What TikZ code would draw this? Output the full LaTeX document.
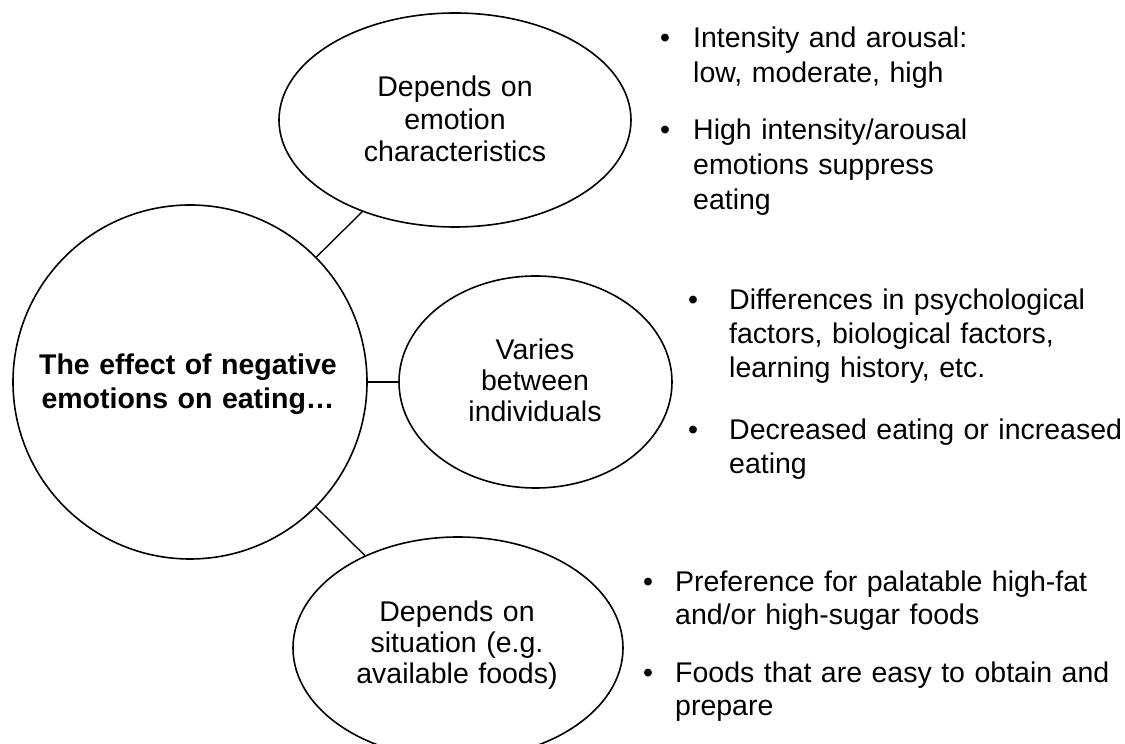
\documentclass[tikz,border=0pt]{standalone}
\usepackage{fontspec}
\setmainfont{Liberation Sans}
\usetikzlibrary{shapes.geometric}

\tikzset{
  outline/.style={draw=black, line width=1.6pt, inner sep=0pt},
  bubble/.style={outline, ellipse},
  link/.style={draw=black, line width=1.4pt},
  lbl/.style={inner sep=0pt, text width=340pt, align=center, anchor=base,
    font=\fontsize{28.5}{#1}\selectfont},
  para/.style={inner sep=0pt, text width=470pt, align=left, anchor=base west,
    font=\fontsize{28.5}{#1}\selectfont},
  dot/.style={inner sep=0pt, anchor=base, font=\fontsize{28.5}{34}\selectfont}
}

\begin{document}
\begin{tikzpicture}[x=1pt, y=1pt]
  \useasboundingbox (0,0) rectangle (1125,744);

  % central topic and the three aspects
  \node[outline, circle, minimum size=354pt] (main) at (190,362) {};
  \node[bubble, minimum width=352pt, minimum height=214pt] (chars) at (455,624) {};
  \node[bubble, minimum width=273pt, minimum height=212pt] (indiv) at (535.5,362) {};
  \node[bubble, minimum width=330pt, minimum height=222pt] (situ) at (458,96) {};

  \draw[link] (main) -- (chars);
  \draw[link] (main) -- (indiv);
  \draw[link] (main) -- (situ);

  % labels inside the shapes
  \node[lbl=34, font=\bfseries\fontsize{28.5}{34}\selectfont] (mainlbl) at (188,369)
    {The effect of negative\\emotions on eating\ldots};
  \node[lbl=32.5] (charslbl) at (455,647) {Depends on\\emotion\\characteristics};
  \node[lbl=31] (indivlbl) at (535,384) {Varies\\between\\individuals};
  \node[lbl=31] (situlbl) at (457,122) {Depends on\\situation (e.g.\\available foods)};

  % notes on emotion characteristics
  \node[dot] (b1) at (665,696) {•};
  \node[para=35] (t1) at (693,696) {Intensity and arousal:\\low, moderate, high};
  \node[dot] (b2) at (665,604) {•};
  \node[para=35] (t2) at (693,604) {High intensity/arousal\\emotions suppress\\eating};

  % notes on individual differences
  \node[dot] (b3) at (693,434) {•};
  \node[para=34] (t3) at (729,434) {Differences in psychological\\factors, biological factors,\\learning history, etc.};
  \node[dot] (b4) at (693,304) {•};
  \node[para=34] (t4) at (729,304) {Decreased eating or increased\\eating};

  % notes on the situation
  \node[dot] (b5) at (648,152) {•};
  \node[para=33] (t5) at (675,152) {Preference for palatable high-fat\\and/or high-sugar foods};
  \node[dot] (b6) at (648,61) {•};
  \node[para=33] (t6) at (675,61) {Foods that are easy to obtain and\\prepare};
\end{tikzpicture}
\end{document}
